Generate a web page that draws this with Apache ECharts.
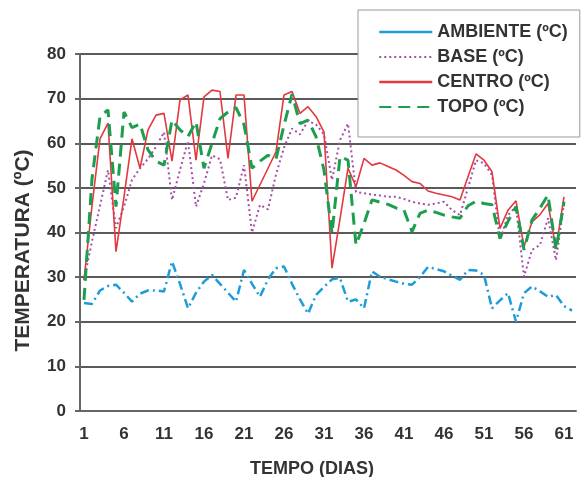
<!DOCTYPE html>
<html>
<head>
<meta charset="utf-8">
<script src="https://cdn.jsdelivr.net/npm/echarts@6/dist/echarts.min.js"></script>
<style>html,body{margin:0;padding:0;background:#fff}#c{width:583px;height:477px}</style>
</head>
<body>
<div id="c"></div>
<script>
var days = [];
for (var i = 1; i <= 62; i++) days.push(String(i));
var yTicks = [0, 10, 20, 30, 40, 50, 60, 70, 80];
var seriesNames = ['AMBIENTE (ºC)', 'BASE (ºC)', 'CENTRO (ºC)', 'TOPO (ºC)'];
var ambiente = [24.2,24,27,28,28.3,26.5,24.5,26.3,27,27,26.8,33.5,28.5,23,26.5,29,30.5,28.5,26.5,24.5,31.6,28.5,25.6,29.5,32,32.4,28.5,25,21.8,26,27.8,29.5,29.8,24.5,25,23,31.3,30.1,29.5,29,28.5,28.3,30,32.3,31.8,31.3,30.3,29.4,31.6,31.5,30.5,23,24.8,26.4,20,26.4,27.9,26.8,25.6,26,23.5,22.5];
var base = [29.4,38,46,54,41,45.8,51.8,54.4,56.5,59.2,62.5,47.3,54,60.5,45.8,51,57.3,56.4,47.3,47.8,55.1,40,46.2,45.2,53,59,63.3,62,65,64.2,62,51.8,60.7,64.4,49.1,48.8,48.5,48.3,48,48,47.5,46.9,46.5,46.2,46.5,46.9,45,43.9,50,56.2,55.5,52.9,38.3,43.9,45.8,30.1,36.1,37.2,43.2,33.8,46.5,null];
var centro = [29.4,46,61,64.5,35.7,48,61,54.4,63,66.3,66.7,56,69.7,70.8,56.2,70.4,71.9,71.6,56.6,70.8,70.8,47,50.7,54.4,58.1,70.8,71.6,66.7,68.2,66,62.5,32,43,54.4,50.3,56.6,55.1,55.6,54.8,54,52.8,51.4,51,49.3,48.8,48.4,48,47.3,52.5,57.6,56.2,53.6,40.9,45,47.1,36.8,42.4,44,46.5,36.4,48,null];
var topo = [24.9,52,66,67.5,45.8,67,63.5,64.3,58.5,56,55.1,65.2,63,61.5,64.8,54.4,60,65.5,67,68,64.2,54.4,56,57.3,56.5,64,71,64.4,65.2,61.5,54,39.8,57,56.2,37.2,42,47.3,46.8,46.3,45.5,45,40.2,44.3,45,44.5,43.9,43.5,43.2,46,47,46.5,46.2,38.7,42.5,45.8,36.1,42.8,45.5,48.4,36.1,46.9,null];

var txt = '#333';
var font = 'Liberation Sans, Arial, sans-serif';
var chart = echarts.init(document.getElementById('c'));
chart.setOption({
  animation: false,
  backgroundColor: '#fff',
  grid: { left: 80, right: 7, top: 54, bottom: 66, containLabel: false, outerBoundsMode: 'none' },
  legend: {
    data: [
      { name: seriesNames[0], lineStyle: { type: 'solid', width: 2.5 } },
      { name: seriesNames[1] },
      { name: seriesNames[2], lineStyle: { width: 2.5 } },
      { name: seriesNames[3] }
    ],
    orient: 'vertical',
    left: 358, top: 10,
    backgroundColor: '#fff',
    borderColor: '#999', borderWidth: 1,
    padding: [13, 12, 21, 20],
    itemWidth: 53, itemHeight: 14, itemGap: 7,
    itemStyle: { opacity: 0 },
    textStyle: { color: txt, fontWeight: 'bold', fontSize: 18, fontFamily: font }
  },
  xAxis: {
    type: 'category', data: days, boundaryGap: true,
    name: 'TEMPO (DIAS)', nameLocation: 'middle', nameGap: 49,
    nameTextStyle: { color: txt, fontWeight: 'bold', fontSize: 18, fontFamily: font, padding: [0, 32, 0, 0] },
    axisLine: { lineStyle: { color: '#666', width: 2 } },
    axisTick: { interval: 4, length: 5, lineStyle: { color: '#666', width: 2 } },
    axisLabel: { interval: 4, margin: 15, color: txt, fontWeight: 'bold', fontSize: 17, fontFamily: font },
    splitLine: { show: false }
  },
  yAxis: {
    type: 'value', min: yTicks[0], max: yTicks[yTicks.length - 1], interval: 10,
    name: 'TEMPERATURA (ºC)', nameLocation: 'middle', nameGap: 46, nameRotate: 90,
    nameTextStyle: { color: txt, fontWeight: 'bold', fontSize: 21, fontFamily: font, padding: [0, 36, 0, 0] },
    axisLine: { show: true, lineStyle: { color: '#666', width: 2 } },
    axisTick: { show: true, length: 5, lineStyle: { color: '#666', width: 2 } },
    axisLabel: { margin: 14, color: txt, fontWeight: 'bold', fontSize: 17, fontFamily: font },
    splitLine: { lineStyle: { color: '#5a5a5a', width: 2 } }
  },
  series: [
    { name: seriesNames[0], type: 'line', data: ambiente, symbol: 'none', z: 2,
      lineStyle: { color: '#1c9dd9', width: 2.5, type: [9, 4, 2, 4] }, itemStyle: { color: '#1c9dd9' } },
    { name: seriesNames[1], type: 'line', data: base, symbol: 'none', z: 3,
      lineStyle: { color: '#a64ea8', width: 2, type: [2, 3] }, itemStyle: { color: '#a64ea8' } },
    { name: seriesNames[2], type: 'line', data: centro, symbol: 'none', z: 4,
      lineStyle: { color: '#e2383e', width: 1.6, type: 'solid' }, itemStyle: { color: '#e2383e' } },
    { name: seriesNames[3], type: 'line', data: topo, symbol: 'none', z: 5,
      lineStyle: { color: '#1d9e4f', width: 3, type: [12, 7] }, itemStyle: { color: '#1d9e4f' } }
  ]
});
</script>
</body>
</html>
